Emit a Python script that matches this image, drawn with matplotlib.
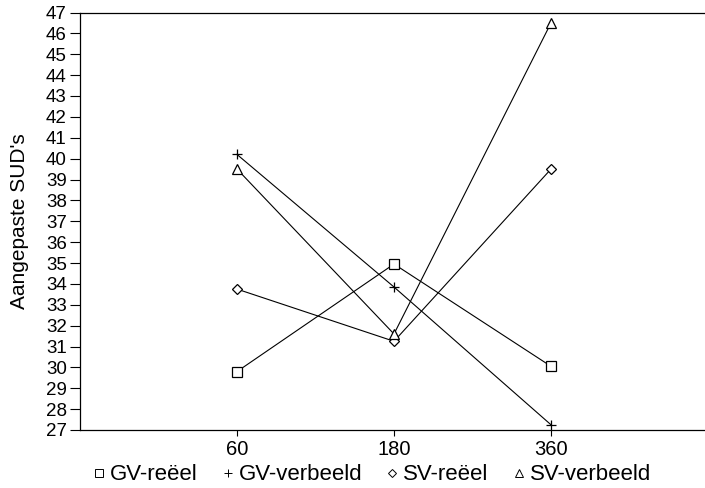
import matplotlib
matplotlib.use("Agg")
import matplotlib.pyplot as plt
from matplotlib.lines import Line2D

plt.rcParams['font.family'] = ['Liberation Sans', 'DejaVu Sans']

categories = ["60", "180", "360"]
gv_reeel = [29.8, 34.95, 30.05]
gv_verbeeld = [40.2, 33.85, 27.25]
sv_reeel = [33.75, 31.25, 39.5]
sv_verbeeld = [39.5, 31.6, 46.5]
yticks = list(range(27, 48))

series = [
    ("GV-reëel", gv_reeel, "s", 7),
    ("GV-verbeeld", gv_verbeeld, "+", 7),
    ("SV-reëel", sv_reeel, "D", 5),
    ("SV-verbeeld", sv_verbeeld, "^", 7),
]

fig = plt.figure(figsize=(7.05, 4.88), dpi=100)
ax = fig.add_axes([80/705, 1-430/488, 628/705, (430-12.5)/488])

x = [1, 2, 3]
for name, vals, m, ms in series:
    ax.plot(x, vals, color="black", lw=0.8, marker=m, markersize=ms,
            markerfacecolor="white", markeredgecolor="black", markeredgewidth=0.9)

ax.set_xlim(0, 4)
ax.set_ylim(27, 47)
ax.set_yticks(yticks)
ax.set_yticklabels([str(v) for v in yticks], fontsize=13.5)
ax.set_xticks(x)
ax.set_xticklabels(categories, fontsize=14.5)
ax.tick_params(axis='y', direction='out', length=7, width=0.8, pad=2.5)
ax.tick_params(axis='x', direction='out', length=4, width=0.8, pad=3)
ax.spines['right'].set_visible(False)
for s in ['left', 'top', 'bottom']:
    ax.spines[s].set_linewidth(0.9)
ax.set_ylabel("Aangepaste SUD's", fontsize=15, labelpad=12)

handles = [Line2D([], [], ls='none', marker=m, markersize=ms * 0.75,
                  markerfacecolor='white', markeredgecolor='black', markeredgewidth=0.7)
           for name, vals, m, ms in series]
fig.legend(handles, [s[0] for s in series], loc='center left',
           bbox_to_anchor=(0.118, 1 - 475/488),
           ncol=4, frameon=False, fontsize=16, handlelength=0.6, handletextpad=0.2,
           columnspacing=1.05, borderaxespad=0)

fig.savefig("out.png", dpi=100)
